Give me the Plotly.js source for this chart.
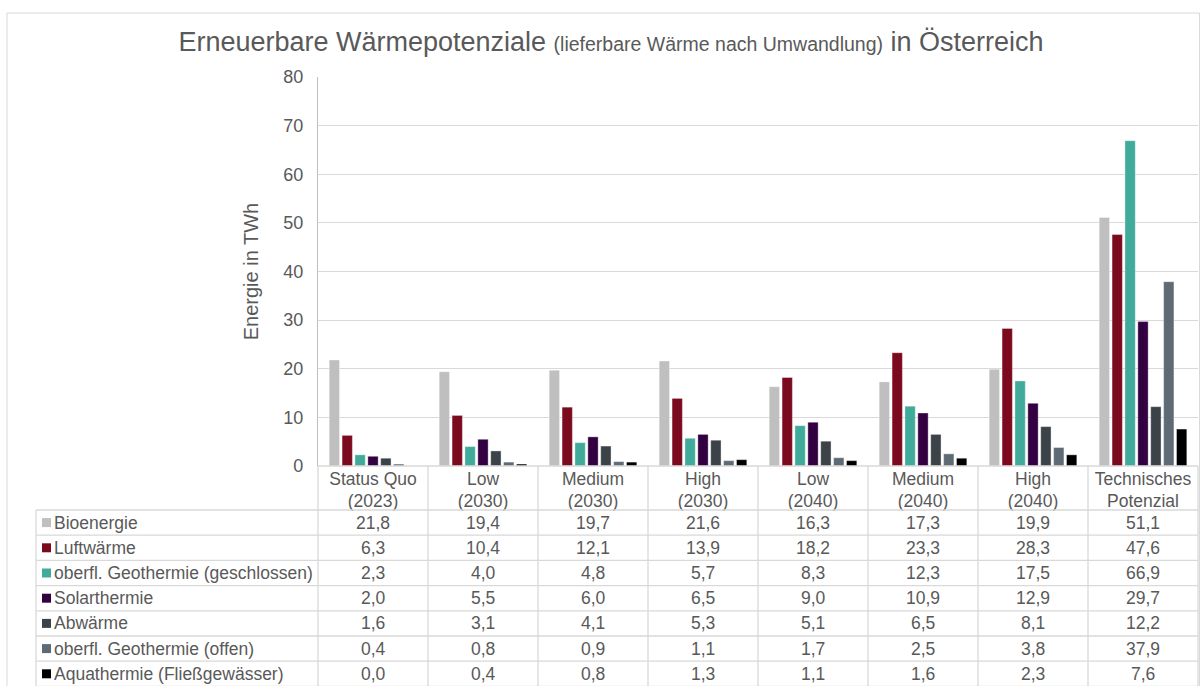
<!DOCTYPE html>
<html>
<head>
<meta charset="utf-8">
<script src="https://cdn.plot.ly/plotly-3.0.1.min.js"></script>
<style>html,body{margin:0;padding:0;background:#fff;}#chart{width:1203px;height:686px;}</style>
</head>
<body>
<div id="chart"></div>
<script>
// ---- data ----
const categories = ["Status Quo (2023)", "Low (2030)", "Medium (2030)", "High (2030)", "Low (2040)", "Medium (2040)", "High (2040)", "Technisches Potenzial"];
const tickLabels = ["Status Quo<br>(2023)", "Low<br>(2030)", "Medium<br>(2030)", "High<br>(2030)", "Low<br>(2040)", "Medium<br>(2040)", "High<br>(2040)", "Technisches<br>Potenzial"];
const seriesNames = ["Bioenergie", "Luftwärme", "oberfl. Geothermie (geschlossen)", "Solarthermie", "Abwärme", "oberfl. Geothermie (offen)", "Aquathermie (Fließgewässer)"];
const bioenergie = [21.8, 19.4, 19.7, 21.6, 16.3, 17.3, 19.9, 51.1];
const luftwaerme = [6.3, 10.4, 12.1, 13.9, 18.2, 23.3, 28.3, 47.6];
const geoGeschlossen = [2.3, 4.0, 4.8, 5.7, 8.3, 12.3, 17.5, 66.9];
const solarthermie = [2.0, 5.5, 6.0, 6.5, 9.0, 10.9, 12.9, 29.7];
const abwaerme = [1.6, 3.1, 4.1, 5.3, 5.1, 6.5, 8.1, 12.2];
const geoOffen = [0.4, 0.8, 0.9, 1.1, 1.7, 2.5, 3.8, 37.9];
const aquathermie = [0.0, 0.4, 0.8, 1.3, 1.1, 1.6, 2.3, 7.6];
const seriesValues = [bioenergie, luftwaerme, geoGeschlossen, solarthermie, abwaerme, geoOffen, aquathermie];
const colors = ["#BFBFBF", "#7B0A1E", "#40AB9A", "#330042", "#3B4248", "#5E6B75", "#000000"];

// ---- geometry helpers (layout only) ----
const W = 1203, H = 686;
const L = 318, R = 1198, T = 77, B = 466;
const px2x = p => (p - L) / (R - L);
const py2y = p => (B - p) / (B - T);
const rowTop = 510, rowH = 25.2;
const gridColor = "#D9D9D9";
const textColor = "#595959";
const font = "Liberation Sans, Arial, sans-serif";
const fs = 17.5;

const traces = seriesValues.map((vals, i) => ({
  type: "bar",
  name: seriesNames[i],
  x: categories,
  y: vals,
  marker: {color: colors[i], line: {color: "rgba(255,255,255,0.6)", width: 0.6}},
  hoverinfo: "y+name"
}));

const shapes = [];
const annotations = [];

// outer chart frame
shapes.push({type: "rect", xref: "paper", yref: "paper", x0: px2x(7), x1: px2x(1199.5), y0: py2y(700), y1: py2y(13),
  line: {color: gridColor, width: 1}, fillcolor: "rgba(0,0,0,0)", layer: "below"});

// table horizontal lines
for (let r = 0; r <= seriesNames.length; r++) {
  const y = rowTop + r * rowH;
  shapes.push({type: "line", xref: "paper", yref: "paper", x0: px2x(36), x1: px2x(R), y0: py2y(y), y1: py2y(y),
    line: {color: gridColor, width: 1.3}});
}
// x-axis / header top line
shapes.push({type: "line", xref: "paper", yref: "paper", x0: 0, x1: 1, y0: 0, y1: 0, line: {color: gridColor, width: 1.3}});
// left edge of table
shapes.push({type: "line", xref: "paper", yref: "paper", x0: px2x(36), x1: px2x(36), y0: py2y(rowTop), y1: py2y(700),
  line: {color: gridColor, width: 1.3}});
// category column separators
for (let c = 0; c <= categories.length; c++) {
  const x = c / categories.length;
  shapes.push({type: "line", xref: "paper", yref: "paper", x0: x, x1: x, y0: 0, y1: py2y(700),
    line: {color: gridColor, width: 1.3}});
}

// table row labels, keys and values
seriesNames.forEach((name, r) => {
  const yc = rowTop + r * rowH + rowH / 2;
  shapes.push({type: "rect", xref: "paper", yref: "paper", x0: px2x(42), x1: px2x(51), y0: py2y(yc + 4.5), y1: py2y(yc - 4.5),
    fillcolor: colors[r], line: {width: 0}});
  annotations.push({xref: "paper", yref: "paper", x: px2x(52), y: py2y(yc), text: name, showarrow: false,
    xanchor: "left", yanchor: "middle", font: {family: font, size: fs, color: textColor}});
  categories.forEach((cat, c) => {
    annotations.push({xref: "x", yref: "paper", x: cat, y: py2y(yc),
      text: seriesValues[r][c].toFixed(1).replace(".", ","), showarrow: false,
      xanchor: "center", yanchor: "middle", font: {family: font, size: fs, color: textColor}});
  });
});

const layout = {
  width: W, height: H,
  margin: {l: L, r: W - R, t: T, b: H - B, autoexpand: false},
  paper_bgcolor: "#FFFFFF", plot_bgcolor: "#FFFFFF",
  font: {family: font, color: textColor},
  title: {
    text: 'Erneuerbare Wärmepotenziale <span style="font-size:19.5px">(lieferbare Wärme nach Umwandlung)</span> in Österreich',
    font: {family: font, size: 27, color: textColor},
    xref: "container", yref: "container", x: 611 / W, xanchor: "center", y: 1 - 42 / H, yanchor: "middle"
  },
  showlegend: false,
  barmode: "group",
  bargap: 0.18,
  bargroupgap: 0.2,
  xaxis: {
    type: "category",
    tickvals: categories, ticktext: tickLabels,
    tickfont: {family: font, size: fs, color: textColor},
    showline: false, showgrid: false, ticks: "", fixedrange: true
  },
  yaxis: {
    range: [0, 80], dtick: 10, tick0: 0,
    showgrid: true, gridcolor: gridColor, gridwidth: 1.3,
    showline: true, linecolor: "#BFBFBF", linewidth: 1.3,
    zeroline: false, ticks: "",
    ticklabelstandoff: 10,
    tickfont: {family: font, size: 18, color: textColor},
    title: {text: "Energie in TWh", font: {family: font, size: 20, color: textColor}, standoff: 19}
  },
  shapes: shapes,
  annotations: annotations
};

Plotly.newPlot("chart", traces, layout, {displayModeBar: false, staticPlot: false});
</script>
</body>
</html>
